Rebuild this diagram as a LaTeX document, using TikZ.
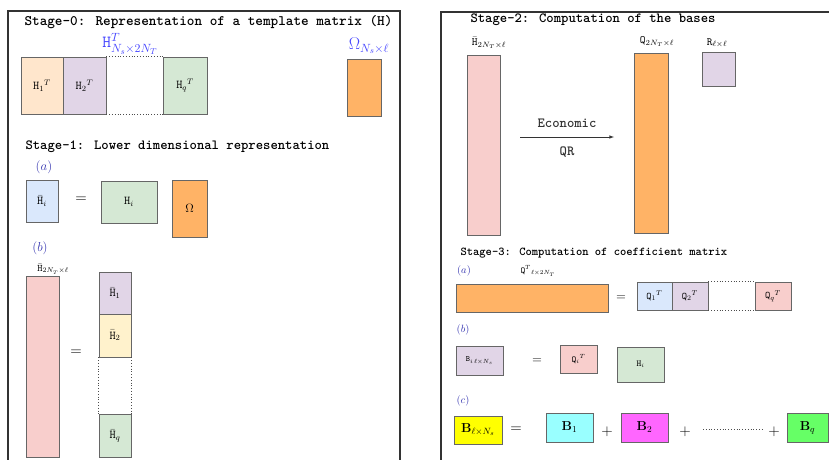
\RequirePackage{fix-cm}
\documentclass[tikz,border=0pt]{standalone}
\usepackage{amsmath}
\definecolor{peach}{HTML}{FFE6CC}
\definecolor{lilac}{HTML}{E1D5E7}
\definecolor{mint}{HTML}{D5E8D4}
\definecolor{orng}{HTML}{FFB366}
\definecolor{skyb}{HTML}{DAE8FC}
\definecolor{rose}{HTML}{F8CECC}
\definecolor{cream}{HTML}{FFF2CC}
\definecolor{ylw}{HTML}{FFFF00}
\definecolor{cyn}{HTML}{99FFFF}
\definecolor{mgt}{HTML}{FF66FF}
\definecolor{grn}{HTML}{66FF66}
\definecolor{hblue}{HTML}{4646FF}
\definecolor{partblue}{HTML}{3434B0}
\tikzset{
  mat/.style n args={3}{draw=black!60, fill=#1, line width=0.7pt, inner sep=0pt,
    minimum width=#2, minimum height=#3, font=\fontsize{12}{14}\selectfont},
  stage/.style={anchor=west, font=\ttfamily\bfseries\fontsize{14}{16}\selectfont},
  part/.style={text=partblue, font=\fontsize{13}{15}\selectfont},
  dim/.style={font=\fontsize{10}{12}\selectfont},
  op/.style={font=\fontsize{15}{17}\selectfont},
  frame/.style={draw=black!80, line width=1.4pt},
  dots/.style={dotted, line width=0.8pt, black!70},
}
\begin{document}
\begin{tikzpicture}[x=1pt, y=-1pt]
  \useasboundingbox (0,0) rectangle (829,459);
  % frames
  \draw[frame] (8,470) -- (8,11) -- (400,11) -- (400,470);
  \draw[frame] (441,470) -- (441,12) -- (840,12);

  % Stage-0
  \node[stage, font=\ttfamily\bfseries\fontsize{14.5}{16}\selectfont] (s0) at (21,22) {Stage-0: Representation of a template matrix (H)};
  \node[text=hblue, font=\fontsize{17}{19}\selectfont] (htlab) at (130,44) {$\mathtt{H}^{T}_{N_s\times 2N_T}$};
  \node[text=hblue, font=\fontsize{17}{19}\selectfont] (omlab) at (369,46) {$\Omega_{N_s\times\ell}$};
  \node[mat={peach}{42pt}{57pt}] (h1t) at (42,85.5) {${\mathtt{H}_1}^{T}$};
  \node[mat={lilac}{43pt}{57pt}] (h2t) at (84.5,85.5) {${\mathtt{H}_2}^{T}$};
  \node[mat={mint}{44pt}{57pt}] (hqt) at (185,85.5) {${\mathtt{H}_q}^{T}$};
  \node[mat={orng}{34pt}{57pt}] (om0) at (364,87.5) {};
  \draw[dots] (h2t.north east) -- (hqt.north west);
  \draw[dots] (h2t.south east) -- (hqt.south west);

  % Stage-1
  \node[stage] (s1) at (22,147) {Stage-1: Lower dimensional representation};
  \node[part] (pa) at (44,167) {$(a)$};
  \node[mat={skyb}{32pt}{42pt}] (hbi) at (42,201) {$\bar{\mathtt{H}}_i$};
  \node[op] (eq1) at (81,200) {$=$};
  \node[mat={mint}{56pt}{42pt}] (hi) at (129,202) {$\mathtt{H}_i$};
  \node[mat={orng}{35pt}{57pt}] (om1) at (189.5,208.5) {$\Omega$};
  \node[part] (pb) at (40,248) {$(b)$};
  \node[dim] (hblab) at (53,269) {$\bar{\mathtt{H}}_{2N_T\times\ell}$};
  \node[mat={rose}{33pt}{181pt}] (hbig) at (42.5,366.5) {};
  \node[op] (eq2) at (76,353) {$=$};
  \node[mat={lilac}{32pt}{42pt}] (hb1) at (115,293) {$\bar{\mathtt{H}}_1$};
  \node[mat={cream}{32pt}{43pt}] (hb2) at (115,335.5) {$\bar{\mathtt{H}}_2$};
  \node[mat={mint}{32pt}{43pt}] (hbq) at (115,435.5) {$\bar{\mathtt{H}}_q$};
  \draw[dots] (hb2.south west) -- (hbq.north west);
  \draw[dots] (hb2.south east) -- (hbq.north east);

  % Stage-2
  \node[stage] (s2) at (467,20) {Stage-2: Computation of the bases};
  \node[dim, font=\fontsize{11}{13}\selectfont] (hblab2) at (489,43) {$\bar{\mathtt{H}}_{2N_T\times\ell}$};
  \node[mat={rose}{33pt}{180pt}] (hbar) at (483.5,145) {};
  \path (520,137) coordinate (qa) (614,137) coordinate (qb);
  \draw[-latex, black!80, line width=0.6pt] (qa) -- node[above=6pt, font=\ttfamily\bfseries\fontsize{14}{16}\selectfont] {Economic}
    node[below=6pt, font=\ttfamily\bfseries\fontsize{14}{16}\selectfont] {QR} (qb);
  \node[dim, font=\fontsize{11}{13}\selectfont] (qlab) at (657,42) {$\mathtt{Q}_{2N_T\times\ell}$};
  \node[mat={orng}{34pt}{180pt}] (qq2) at (651,143) {};
  \node[dim, font=\fontsize{11}{13}\selectfont] (rlab) at (717,43) {$\mathtt{R}_{\ell\times\ell}$};
  \node[mat={lilac}{33pt}{34pt}] (rr) at (718.5,69) {};

  % Stage-3
  \node[stage, font=\ttfamily\bfseries\fontsize{12}{14}\selectfont] (s3) at (457,253) {Stage-3: Computation of coefficient matrix};
  \node[part, font=\fontsize{10.5}{12}\selectfont] (pa3) at (464,271) {$(a)$};
  \node[dim, font=\fontsize{9}{11}\selectfont] (qtlab) at (538,271) {$\mathtt{Q}^{T}{}_{\ell\times 2N_T}$};
  \node[mat={orng}{152pt}{28pt}] (qtw) at (532,298) {};
  \node[op, font=\fontsize{13}{15}\selectfont] (eq3) at (621,298) {$=$};
  \node[mat={skyb}{35pt}{28pt}, font=\fontsize{10}{12}\selectfont] (q1t) at (654.5,296) {${\mathtt{Q}_1}^{T}$};
  \node[mat={lilac}{36pt}{28pt}, font=\fontsize{10}{12}\selectfont] (q2t) at (690,296) {${\mathtt{Q}_2}^{T}$};
  \node[mat={rose}{36pt}{28pt}, font=\fontsize{10}{12}\selectfont] (qqt) at (773,296) {${\mathtt{Q}_q}^{T}$};
  \draw[dots] (q2t.north east) -- (qqt.north west);
  \draw[dots] (q2t.south east) -- (qqt.south west);
  \node[part, font=\fontsize{10.5}{12}\selectfont] (pb3) at (463,330) {$(b)$};
  \node[mat={lilac}{47pt}{29pt}, font=\fontsize{8}{10}\selectfont] (bi) at (479.5,360.5) {$\mathtt{B}_{i\,\ell\times N_s}$};
  \node[op, font=\fontsize{13}{15}\selectfont] (eq4) at (537,361) {$=$};
  \node[mat={rose}{37pt}{28pt}, font=\fontsize{9}{11}\selectfont] (qit) at (578.5,359) {${\mathtt{Q}_i}^{T}$};
  \node[mat={mint}{47pt}{35pt}, font=\fontsize{9}{11}\selectfont] (hi3) at (640.5,364.5) {$\mathtt{H}_i$};
  \node[part, font=\fontsize{10.5}{12}\selectfont] (pc3) at (463,401) {$(c)$};
  \node[mat={ylw}{48pt}{28pt}, font=\fontsize{13}{15}\selectfont] (bb) at (478,430) {$\mathbf{B}_{\ell\times N_s}$};
  \node[op] (eq5) at (516,430) {$=$};
  \node[mat={cyn}{47pt}{29pt}, font=\fontsize{13}{15}\selectfont] (b1) at (569.5,427.5) {$\mathbf{B}_1$};
  \node[op] (pl1) at (607,432) {$+$};
  \node[mat={mgt}{47pt}{29pt}, font=\fontsize{13}{15}\selectfont] (b2) at (644.5,427.5) {$\mathbf{B}_2$};
  \node[op] (pl2) at (685,432) {$+$};
  \path (703,429) coordinate (da) (762,429) coordinate (db);
  \draw[dots] (da) -- (db);
  \node[op] (pl3) at (774,432) {$+$};
  \node[mat={grn}{41pt}{29pt}, font=\fontsize{13}{15}\selectfont] (bq) at (807.5,427.5) {$\mathbf{B}_q$};
\end{tikzpicture}
\end{document}
